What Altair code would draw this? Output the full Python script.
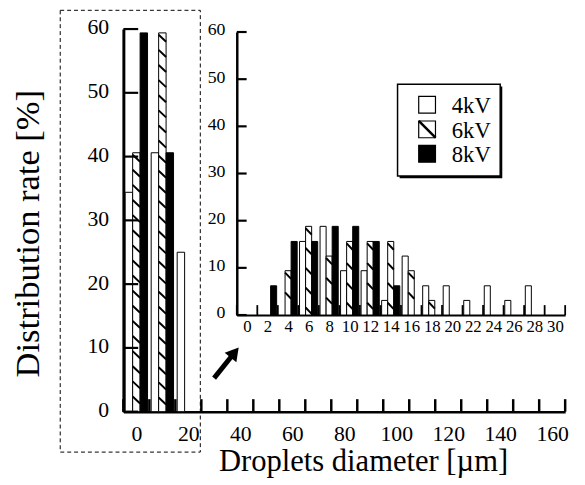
import altair as alt
import pandas as pd

# ---------------- data ----------------
SERIES = ["4kV", "6kV", "8kV"]

MAIN_D = [0, 10, 20]
MAIN_4KV = [34.4, 40.6, 25.0]
MAIN_6KV = [40.6, 59.4, 0.0]
MAIN_8KV = [59.4, 40.6, 0.0]

INSET_D = [0, 2, 4, 6, 8, 10, 12, 14, 16, 18, 20, 22, 24, 26, 28, 30]
INSET_4KV = [0, 0, 0, 15.6, 18.8, 9.4, 9.4, 3.1, 12.5, 6.2, 6.2, 3.1, 6.2, 3.1, 6.2, 0]
INSET_6KV = [0, 0, 9.4, 18.8, 12.5, 15.6, 15.6, 15.6, 9.4, 3.1, 0, 0, 0, 0, 0, 0]
INSET_8KV = [0, 6.2, 15.6, 15.6, 18.8, 18.8, 15.6, 6.2, 0, 0, 0, 0, 0, 0, 0, 0]

MAIN_X_LABELS = [0, 20, 40, 60, 80, 100, 120, 140, 160]
MAIN_X_EDGES = [-5, 5, 15, 25, 35, 45, 55, 65, 75, 85, 95, 105, 115, 125, 135, 145, 155, 165]
MAIN_Y_TICKS = [0, 10, 20, 30, 40, 50, 60]
INSET_X_LABELS = [0, 2, 4, 6, 8, 10, 12, 14, 16, 18, 20, 22, 24, 26, 28, 30]
INSET_X_EDGES = [-1, 1, 3, 5, 7, 9, 11, 13, 15, 17, 19, 21, 23, 25, 27, 29, 31]
INSET_Y_TICKS = [0, 10, 20, 30, 40, 50, 60]

X_TITLE = "Droplets diameter [µm]"
Y_TITLE = "Distribution rate [%]"

FONT = "Liberation Serif"

# ---------------- helpers ----------------
def bar_table(centers, values, half):
    w = 2 * half / 3
    rows = []
    for i, s in enumerate(SERIES):
        for c, v in zip(centers, values[i]):
            if v > 0:
                left = c - half + i * w
                rows.append(dict(series=s, x=left, x2=left + w, y=0.0, y2=v))
    return pd.DataFrame(rows)


def hatch_table(bars, spacing, drop, gap):
    rows = []
    for r in bars[bars.series == "6kV"].itertuples():
        t = r.y2 - gap
        while t - drop >= 0:
            rows.append(dict(x=r.x, x2=r.x2, y=t, y2=t - drop))
            t -= spacing
    return pd.DataFrame(rows)


fill_scale = alt.Scale(domain=SERIES, range=["white", "white", "black"])

# ---------------- main scales / axes ----------------
mxs = alt.Scale(domain=[-5, 165], nice=False, zero=False)
mys = alt.Scale(domain=[0, 60], nice=False, zero=False)
mx_axis = alt.Axis(values=MAIN_X_LABELS, ticks=False, tickSize=0, grid=False,
                   domainColor="black", domainWidth=2.5,
                   labelFont=FONT, labelFontSize=22, labelColor="black",
                   labelPadding=12, labelFlush=False, labelOverlap=False,
                   title=X_TITLE, titleFont=FONT, titleFontSize=31,
                   titleFontWeight="normal", titleColor="black",
                   titleX=243, titleY=60, titleAlign="center",
                   titleBaseline="alphabetic")
my_axis = alt.Axis(values=MAIN_Y_TICKS, ticks=False, tickSize=0, grid=False,
                   domainColor="black", domainWidth=3,
                   labelFont=FONT, labelFontSize=22, labelColor="black",
                   labelPadding=15, labelOffset=-2, labelFlush=False,
                   labelOverlap=False,
                   title=Y_TITLE, titleFont=FONT, titleFontSize=35,
                   titleFontWeight="normal", titleColor="black",
                   titleAngle=270, titleX=-97, titleY=207,
                   titleAlign="center", titleBaseline="middle")


def MX(f):
    return alt.X(f, type="quantitative", scale=mxs, axis=mx_axis)


def MY(f):
    return alt.Y(f, type="quantitative", scale=mys, axis=my_axis)


# ---------------- inset scales / axes ----------------
ixs = alt.Scale(domain=[-1, 31], range=[115, 448], nice=False, zero=False)
iys = alt.Scale(domain=[0, 60], range=[290, 3], nice=False, zero=False)
ix_axis = alt.Axis(orient="bottom", offset=-98, values=INSET_X_LABELS,
                   ticks=False, tickSize=0, grid=False,
                   domainColor="black", domainWidth=2,
                   labelFont=FONT, labelFontSize=17, labelColor="black",
                   labelPadding=4, labelFlush=False, labelOverlap=False,
                   title=None)
iy_axis = alt.Axis(orient="left", offset=-115, values=INSET_Y_TICKS,
                   ticks=False, tickSize=0, grid=False,
                   domainColor="black", domainWidth=2.5,
                   labelFont=FONT, labelFontSize=18, labelColor="black",
                   labelPadding=12, labelOffset=-2, labelFlush=False,
                   labelOverlap=False, title=None)


def IX(f):
    return alt.X(f, type="quantitative", scale=ixs, axis=ix_axis)


def IY(f):
    return alt.Y(f, type="quantitative", scale=iys, axis=iy_axis)


# ---------------- main layer ----------------
main_bars = bar_table(MAIN_D, [MAIN_4KV, MAIN_6KV, MAIN_8KV], 4.3)
main_hatch = hatch_table(main_bars, 2.37, 1.1, 0.3)

m_bars = alt.Chart(main_bars).mark_rect(stroke="black", strokeWidth=1).encode(
    x=MX("x"), x2="x2", y=MY("y"), y2="y2",
    fill=alt.Fill("series:N", scale=fill_scale, legend=None))
m_hatch = alt.Chart(main_hatch).mark_rule(color="black", strokeWidth=2).encode(
    x=MX("x"), x2="x2", y=MY("y"), y2="y2")

m_xt = alt.Chart(pd.DataFrame({"x": MAIN_X_EDGES, "y": 0.0, "y2": 1.96})).mark_rule(
    color="black", strokeWidth=2.5).encode(x=MX("x"), y=MY("y"), y2="y2")
m_yt = alt.Chart(pd.DataFrame({"y": MAIN_Y_TICKS, "x": -5.0, "x2": 0.7})).mark_rule(
    color="black", strokeWidth=2.2).encode(x=MX("x"), x2="x2", y=MY("y"))

box = alt.Chart(pd.DataFrame({"x": [-29.3], "x2": [24.6], "y": [62.94], "y2": [-6.34]})).mark_rect(
    fillOpacity=0, stroke="black", strokeWidth=1, strokeDash=[4, 3]).encode(
    x=MX("x"), x2="x2", y=MY("y"), y2="y2")

arrow = alt.Chart(pd.DataFrame({"x": [29.9], "y": [5.26], "x2": [37.8], "y2": [9.28]})).mark_rule(
    color="black", strokeWidth=5).encode(x=MX("x"), x2="x2", y=MY("y"), y2="y2")
arrow_head = alt.Chart(pd.DataFrame({"x": [37.8], "y": [9.28]})).mark_point(
    shape="triangle-up", size=230, filled=True, color="black", opacity=1, angle=39).encode(
    x=MX("x"), y=MY("y"))

leg_shadow = alt.Chart(pd.DataFrame({"x": [101.3], "x2": [140.8], "y": [51.0], "y2": [36.6]})).mark_rect(
    color="black").encode(x=MX("x"), x2="x2", y=MY("y"), y2="y2")
leg_box = alt.Chart(pd.DataFrame({"x": [100.5], "x2": [140.0], "y": [51.34], "y2": [36.96]})).mark_rect(
    fill="white", stroke="black", strokeWidth=1.5).encode(x=MX("x"), x2="x2", y=MY("y"), y2="y2")
leg_sq = alt.Chart(pd.DataFrame({"series": SERIES, "x": 111.87, "y": [48.14, 44.27, 40.44]})).mark_square(
    size=289, stroke="black", strokeWidth=1.2, opacity=1).encode(
    x=MX("x"), y=MY("y"), fill=alt.Fill("series:N", scale=fill_scale, legend=None))
leg_diag = alt.Chart(pd.DataFrame({"x": [108.65], "x2": [115.1], "y": [45.59], "y2": [42.96]})).mark_rule(
    color="black", strokeWidth=2.5).encode(x=MX("x"), x2="x2", y=MY("y"), y2="y2")
leg_txt = alt.Chart(pd.DataFrame({"series": SERIES, "x": 121.36, "y": [46.9, 42.99, 39.17]})).mark_text(
    align="left", baseline="alphabetic", font=FONT, fontSize=23, color="black").encode(
    x=MX("x"), y=MY("y"), text="series:N")

main_layer = alt.layer(m_bars, m_hatch, m_xt, m_yt, box, arrow, arrow_head,
                       leg_shadow, leg_box, leg_sq, leg_diag, leg_txt)

# ---------------- inset layer ----------------
inset_bars = bar_table(INSET_D, [INSET_4KV, INSET_6KV, INSET_8KV], 0.885)
inset_hatch = hatch_table(inset_bars, 4.2, 1.35, 0.4)

i_bars = alt.Chart(inset_bars).mark_rect(stroke="black", strokeWidth=1).encode(
    x=IX("x"), x2="x2", y=IY("y"), y2="y2",
    fill=alt.Fill("series:N", scale=fill_scale, legend=None))
i_hatch = alt.Chart(inset_hatch).mark_rule(color="black", strokeWidth=2).encode(
    x=IX("x"), x2="x2", y=IY("y"), y2="y2")
i_xt = alt.Chart(pd.DataFrame({"x": INSET_X_EDGES, "y": 0.0, "y2": 2.1})).mark_rule(
    color="black", strokeWidth=1.8).encode(x=IX("x"), y=IY("y"), y2="y2")
i_yt = alt.Chart(pd.DataFrame({"y": INSET_Y_TICKS, "x": -1.0, "x2": -0.04})).mark_rule(
    color="black", strokeWidth=2.2).encode(x=IX("x"), x2="x2", y=IY("y"))

inset_layer = alt.layer(i_bars, i_hatch, i_xt, i_yt)

chart = alt.layer(main_layer, inset_layer).resolve_scale(
    x="independent", y="independent", fill="shared"
).properties(
    width=448, height=388,
    autosize=alt.AutoSizeParams(type="none"),
    padding={"left": 117, "top": 18, "right": 12, "bottom": 70},
    background="white",
).configure_view(stroke=None).configure_axis(
    labelFont=FONT, titleFont=FONT
).configure_text(font=FONT)

chart.save("out.html", embed_options={"renderer": "svg", "actions": False})
